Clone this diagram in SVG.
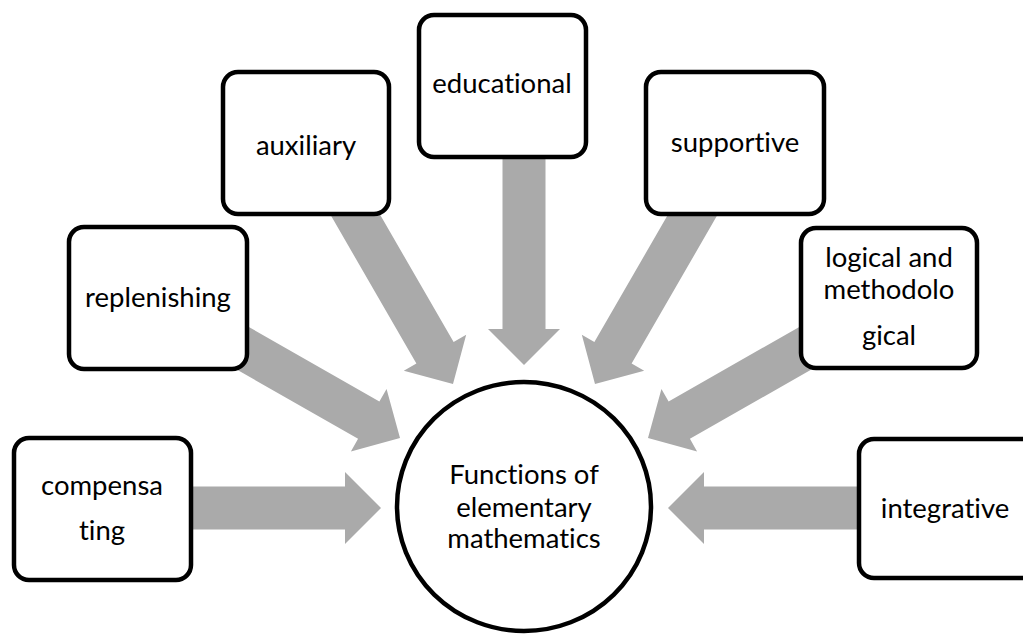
<svg xmlns="http://www.w3.org/2000/svg" width="1023" height="634" viewBox="0 0 1023 634">
<style>
.box{fill:#fff;stroke:#000;stroke-width:4.5}
.arr{fill:#aaaaaa}
text{font-family:Lato,"Liberation Sans",sans-serif;font-size:27.5px;fill:#000;text-anchor:middle;font-variant-ligatures:none;font-feature-settings:"liga" 0,"clig" 0}
</style>
<rect width="1023" height="634" fill="#fff"/>
<g id="connectors">
<polygon class="arr" transform="translate(381,508) rotate(0)" points="-211,-21.5 -36,-21.5 -36,-36 0,0 -36,36 -36,21.5 -211,21.5"/>
<polygon class="arr" transform="translate(668,508) rotate(180)" points="-212,-21.5 -36,-21.5 -36,-36 0,0 -36,36 -36,21.5 -212,21.5"/>
<polygon class="arr" transform="translate(524,365) rotate(90)" points="-225,-21.5 -36,-21.5 -36,-36 0,0 -36,36 -36,21.5 -225,21.5"/>
<polygon class="arr" transform="translate(453,384) rotate(60)" points="-215,-21.5 -36,-21.5 -36,-36 0,0 -36,36 -36,21.5 -215,21.5"/>
<polygon class="arr" transform="translate(595,384) rotate(120)" points="-215,-21.5 -36,-21.5 -36,-36 0,0 -36,36 -36,21.5 -215,21.5"/>
<polygon class="arr" transform="translate(400,438) rotate(29.7)" points="-195,-21.5 -36,-21.5 -36,-36 0,0 -36,36 -36,21.5 -195,21.5"/>
<polygon class="arr" transform="translate(648,438) rotate(150.3)" points="-195,-21.5 -36,-21.5 -36,-36 0,0 -36,36 -36,21.5 -195,21.5"/>
</g>
<g id="center">
<ellipse cx="524" cy="506.5" rx="127" ry="124.5" fill="#fff" stroke="#000" stroke-width="4.5"/>
<text x="524" y="484">Functions of</text>
<text x="524" y="517">elementary</text>
<text x="524" y="548">mathematics</text>
</g>
<g id="compensating">
<rect class="box" x="14" y="438" width="177" height="142" rx="15"/>
<text x="102" y="495">compensa</text>
<text x="102" y="540">ting</text>
</g>
<g id="replenishing">
<rect class="box" x="69" y="227" width="178" height="142" rx="15"/>
<text x="158" y="307">replenishing</text>
</g>
<g id="auxiliary">
<rect class="box" x="223" y="72" width="166" height="142" rx="15"/>
<text x="306" y="155">auxiliary</text>
</g>
<g id="educational">
<rect class="box" x="419" y="15" width="167" height="142" rx="15"/>
<text x="502" y="93">educational</text>
</g>
<g id="supportive">
<rect class="box" x="646" y="72" width="178" height="142" rx="15"/>
<text x="735" y="152">supportive</text>
</g>
<g id="logical">
<rect class="box" x="801" y="228" width="176" height="140" rx="15"/>
<text x="889" y="267">logical and</text>
<text x="889" y="299">methodolo</text>
<text x="889" y="345">gical</text>
</g>
<g id="integrative">
<rect class="box" x="859" y="439" width="185" height="139" rx="15"/>
<text x="945" y="518">integrative</text>
</g>
</svg>
